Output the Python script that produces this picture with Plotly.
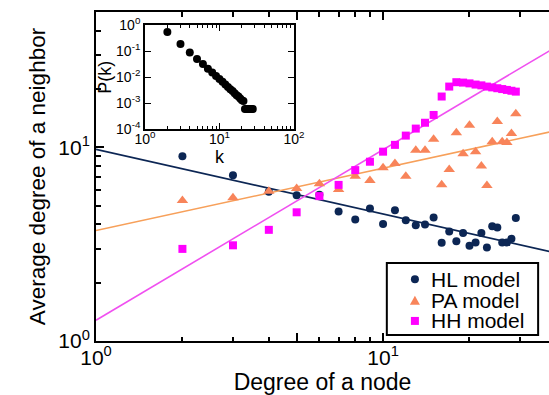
import plotly.graph_objects as go

# ---- main chart data ----
k_hl = list(range(2, 30))
hl_vals = [9.0, 7.18, 5.9, 5.66, 5.7, 4.66, 4.24, 4.83, 4.02, 4.73, 4.2, 3.96, 4.0, 4.34,
           3.22, 3.68, 3.27, 3.61, 3.1, 3.23, 3.61, 3.04, 3.91, 3.86, 3.23, 3.23, 3.37, 4.32]

k_pa = list(range(2, 30))
pa_vals = [5.31, 5.49, 5.94, 6.13, 6.48, 6.06, 7.1, 6.75, 7.85, 8.26, 7.1, 9.65, 9.65, 11.0,
           6.41, 7.69, 11.9, 9.28, 13.0, 9.5, 8.0, 6.35, 10.7, 13.6, 10.7, 10.6, 11.8, 14.9]

k_hh = list(range(2, 30))
hh_vals = [2.99, 3.12, 3.75, 4.62, 5.6, 6.4, 7.63, 8.43, 9.5, 10.3, 11.5, 12.5, 13.4, 14.7,
           18.3, 20.6, 21.7, 21.6, 21.4, 21.1, 20.9, 20.6, 20.4, 20.2, 20.0, 19.8, 19.6, 19.4]

# fitted power-law lines (end points)
fit_k = [1, 40]
hl_fit = [9.77, 2.85]
pa_fit = [3.72, 12.2]
hh_fit = [1.28, 33.0]

# ---- inset data: degree distribution ----
inset_k = list(range(2, 29))
inset_p = [0.54, 0.19, 0.089, 0.050, 0.032, 0.021, 0.015, 0.011, 0.0085, 0.0066, 0.0052,
           0.0042, 0.0034, 0.0029, 0.0024, 0.0020, 0.0018, 0.0015, 0.0013, 0.0012,
           0.0006, 0.0006, 0.0006, 0.0006, 0.0006, 0.0006, 0.0006]

series_names = ["HL model", "PA model", "HH model"]

x_ticks = [1, 5, 10]
x_ticktext = ["10<sup>0</sup>", "", "10<sup>1</sup>"]
y_ticks = [1, 10]
y_ticktext = ["10<sup>0</sup>", "10<sup>1</sup>"]
inset_x_ticks = [1, 10, 100]
inset_x_text = ["10<sup>0</sup>", "10<sup>1</sup>", "10<sup>2</sup>"]
inset_y_ticks = [1e-4, 1e-3, 1e-2, 1e-1, 1]
inset_y_text = ["10<sup>-4</sup>", "10<sup>-3</sup>", "10<sup>-2</sup>", "10<sup>-1</sup>", "10<sup>0</sup>"]

NAVY = "#0c2654"
ORANGE = "#f8845a"
ORANGE_LINE = "#f7a05a"
MAGENTA = "#ff00ff"
MAGENTA_LINE = "#f050f0"
FONT = "Liberation Sans, Arial, sans-serif"

fig = go.Figure()

fig.add_trace(go.Scatter(x=fit_k, y=hl_fit, mode="lines", line=dict(color=NAVY, width=1.6),
                         showlegend=False, hoverinfo="skip"))
fig.add_trace(go.Scatter(x=fit_k, y=pa_fit, mode="lines", line=dict(color=ORANGE_LINE, width=1.6),
                         showlegend=False, hoverinfo="skip"))
fig.add_trace(go.Scatter(x=fit_k, y=hh_fit, mode="lines", line=dict(color=MAGENTA_LINE, width=1.6),
                         showlegend=False, hoverinfo="skip"))

fig.add_trace(go.Scatter(x=k_hl, y=hl_vals, mode="markers", name=series_names[0],
                         marker=dict(symbol="circle", size=8, color=NAVY), showlegend=False))
fig.add_trace(go.Scatter(x=k_pa, y=pa_vals, mode="markers", name=series_names[1],
                         marker=dict(symbol="triangle-up", size=10, color=ORANGE), showlegend=False))
fig.add_trace(go.Scatter(x=k_hh, y=hh_vals, mode="markers", name=series_names[2],
                         marker=dict(symbol="square", size=8, color=MAGENTA), showlegend=False))

fig.add_trace(go.Scatter(x=inset_k, y=inset_p, mode="markers", xaxis="x2", yaxis="y2",
                         marker=dict(symbol="circle", size=8, color="black"),
                         showlegend=False))

minor_main_x = [2, 3, 4, 6, 7, 8, 9, 20, 30]
minor_main_y = [2, 3, 4, 5, 6, 7, 8, 9, 20, 30, 40]
minor_inset_x = [2, 3, 4, 5, 6, 7, 8, 9, 20, 30, 40, 50, 60, 70, 80, 90]

# ---- hand-built legend (box, symbols, labels) in paper coordinates ----
LEG_X0, LEG_X1, LEG_Y0, LEG_Y1 = 0.642, 0.976, 0.018, 0.237
LEG_ROWS = [0.188, 0.122, 0.061]
LEG_SYM_X = 0.704
LEG_TXT_X = 0.736

shapes = [dict(type="rect", xref="paper", yref="paper", x0=LEG_X0, x1=LEG_X1, y0=LEG_Y0, y1=LEG_Y1,
               line=dict(color="black", width=2), fillcolor="white", layer="above")]
# circle
shapes.append(dict(type="circle", xref="paper", yref="paper", xsizemode="pixel", ysizemode="pixel",
                   xanchor=LEG_SYM_X, yanchor=LEG_ROWS[0], x0=-4, x1=4, y0=-4, y1=4,
                   fillcolor=NAVY, line=dict(width=0), layer="above"))
# triangle
shapes.append(dict(type="path", xref="paper", yref="paper", xsizemode="pixel", ysizemode="pixel",
                   xanchor=LEG_SYM_X, yanchor=LEG_ROWS[1], path="M -5,-4 L 5,-4 L 0,5 Z",
                   fillcolor=ORANGE, line=dict(width=0), layer="above"))
# square
shapes.append(dict(type="rect", xref="paper", yref="paper", xsizemode="pixel", ysizemode="pixel",
                   xanchor=LEG_SYM_X, yanchor=LEG_ROWS[2], x0=-4, x1=4, y0=-4, y1=4,
                   fillcolor=MAGENTA, line=dict(width=0), layer="above"))

annotations = [dict(text=name, xref="paper", yref="paper", x=LEG_TXT_X, y=yy,
                    xanchor="left", yanchor="middle", showarrow=False,
                    font=dict(size=21, family=FONT, color="black"))
               for name, yy in zip(series_names, LEG_ROWS)]

fig.update_layout(
    width=549, height=395,
    margin=dict(l=96, r=0, t=12, b=54, autoexpand=False),
    paper_bgcolor="white", plot_bgcolor="white",
    font=dict(family=FONT, color="black"),
    showlegend=False,
    shapes=shapes,
    annotations=annotations,
    xaxis=dict(type="log", range=[0, 1.578], showgrid=False, zeroline=False, automargin=False,
               showline=True, linecolor="black", linewidth=2, mirror="allticks",
               ticks="inside", ticklen=8, tickwidth=1.5, tickcolor="black",
               tickvals=x_ticks, ticktext=x_ticktext, tickfont=dict(size=21),
               ticklabelstandoff=-3,
               minor=dict(tickvals=minor_main_x, ticks="inside", ticklen=4.5, tickwidth=1.5,
                          tickcolor="black", showgrid=False),
               title=dict(text="Degree of a node", font=dict(size=23), standoff=6)),
    yaxis=dict(type="log", range=[0, 1.699], showgrid=False, zeroline=False, automargin=False,
               showline=True, linecolor="black", linewidth=2, mirror=False,
               ticks="inside", ticklen=8, tickwidth=1.5, tickcolor="black",
               tickvals=y_ticks, ticktext=y_ticktext, tickfont=dict(size=21),
               minor=dict(tickvals=minor_main_y, ticks="inside", ticklen=4.5, tickwidth=1.5,
                          tickcolor="black", showgrid=False),
               title=dict(text="Average degree of a neighbor", font=dict(size=22.5), standoff=6)),
    xaxis2=dict(type="log", range=[0, 2], domain=[0.108, 0.437], anchor="y2", automargin=False,
                showgrid=False, zeroline=False, showline=True, linecolor="black",
                linewidth=1.5, mirror="allticks", ticks="inside", ticklen=6, tickwidth=1.2,
                tickcolor="black", tickvals=inset_x_ticks, ticktext=inset_x_text,
                tickfont=dict(size=14), ticklabelstandoff=-4,
                minor=dict(tickvals=minor_inset_x, ticks="inside", ticklen=3.5, tickwidth=1.2,
                           tickcolor="black", showgrid=False),
                title=dict(text="k", font=dict(size=18), standoff=0)),
    yaxis2=dict(type="log", range=[-4, 0], domain=[0.644, 0.960], anchor="x2", automargin=False,
                showgrid=False, zeroline=False, showline=True, linecolor="black",
                linewidth=1.5, mirror="allticks", ticks="inside", ticklen=6, tickwidth=1.2,
                tickcolor="black", tickvals=inset_y_ticks, ticktext=inset_y_text,
                tickfont=dict(size=14),
                title=dict(text="P(k)", font=dict(size=18), standoff=0)),
)

fig.write_html("out.html")
